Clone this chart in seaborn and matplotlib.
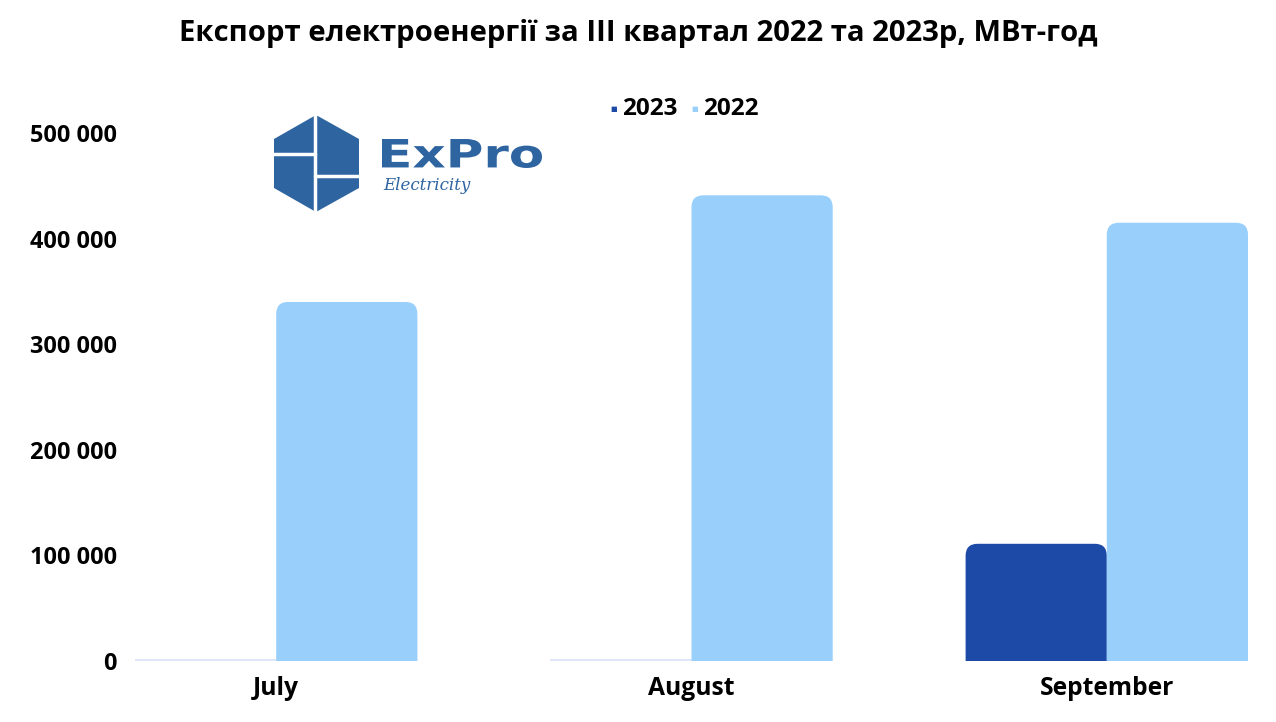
import matplotlib
matplotlib.use("Agg")
import matplotlib.pyplot as plt
import seaborn as sns
import pandas as pd
from matplotlib.patches import FancyBboxPatch, Polygon, PathPatch
from matplotlib.textpath import TextPath
from matplotlib.font_manager import FontProperties
from matplotlib.transforms import Affine2D

months = ["July", "August", "September"]
years = ["2023", "2022"]
values_2023 = [1000, 1000, 111000]
values_2022 = [340000, 441000, 415000]
yticks = [0, 100000, 200000, 300000, 400000, 500000]
ytick_labels = ["0", "100 000", "200 000", "300 000", "400 000", "500 000"]
title = "Експорт електроенергії за III квартал 2022 та 2023р, МВт-год"
colors = {"2023": "#1d4aa6", "2022": "#99cffb"}

df = pd.DataFrame({
    "month": months * 2,
    "year": ["2023"] * 3 + ["2022"] * 3,
    "value": values_2023 + values_2022,
})

sns.set_theme(style="white")
plt.rcParams["font.family"] = ["Open Sans", "DejaVu Sans"]

W, H = 1276, 722
fig = plt.figure(figsize=(W / 100, H / 100), dpi=100)
ax = fig.add_axes([135 / W, 1 - 661 / H, (1248 - 135) / W, (661 - 133) / H])

sns.barplot(data=df, x="month", y="value", hue="year", hue_order=years,
            palette=colors, width=0.68, gap=0, ax=ax, legend=False,
            saturation=1, errorbar=None)

ax.set_ylim(0, 500000)
ax.set_xlim(-0.34, 2.34)

# rounded-top bars
px_per_x = (1248 - 135) / 2.68
px_per_y = 528 / 500000
r_px = 12
rx = r_px / px_per_x
ry = r_px / px_per_y
for p in list(ax.patches):
    x0, w, h = p.get_x(), p.get_width(), p.get_height()
    fc = p.get_facecolor()
    p.set_visible(False)
    if h * px_per_y < 2 * r_px:
        ax.add_patch(plt.Rectangle((x0, 0), w, max(h, 1500), facecolor="#dfe6f5", edgecolor="none"))
        continue
    fb = FancyBboxPatch((x0, -ry), w, h + ry,
                        boxstyle=f"round,pad=0,rounding_size={rx}",
                        mutation_aspect=ry / rx, facecolor=fc, edgecolor="none",
                        clip_on=True)
    ax.add_patch(fb)

ax.set_yticks(yticks)
ax.set_yticklabels(ytick_labels, fontsize=16.9, fontweight="bold", color="black")
ax.tick_params(axis="y", pad=13, length=0)
ax.tick_params(axis="x", pad=11, length=0)
for lab in ax.get_xticklabels():
    lab.set_fontsize(17.7)
    lab.set_fontweight("bold")
    lab.set_color("black")
ax.set_xlabel("")
ax.set_ylabel("")
sns.despine(ax=ax, left=True, bottom=True, top=True, right=True)
ax.grid(False)

fig.text(0.5, 1 - 33 / H, title, ha="center", va="center",
         fontsize=21.1, fontweight="bold", color="black")

# legend
leg_y = 1 - 109 / H
for xm, yr in [(614, "2023"), (695, "2022")]:
    fig.text(xm / W, leg_y, "■", ha="center", va="center", fontsize=5,
             color=colors[yr], family=["DejaVu Sans"])
    fig.text((xm + 8) / W, leg_y, yr, ha="left", va="center",
             fontsize=17.5, fontweight="bold", color="black")

# logo
lax = fig.add_axes([0, 0, 1, 1], zorder=5)
lax.set_xlim(0, W)
lax.set_ylim(H, 0)
lax.axis("off")
logo_c = "#2e64a0"
hexagon = [(316, 115), (359, 139), (359, 188), (316, 212), (274, 188), (274, 139)]
lax.add_patch(Polygon(hexagon, closed=True, facecolor=logo_c, edgecolor="none"))
lax.plot([315, 315], [112, 215], color="white", lw=2.5)
lax.plot([271, 315], [154, 154], color="white", lw=2.5)
lax.plot([315, 362], [176, 176], color="white", lw=2.5)

tp = TextPath((0, 0), "ExPro", size=40,
              prop=FontProperties(family="DejaVu Sans", weight="bold"))
bb = tp.get_extents()
sx = (542 - 382) / bb.width
sy = (168 - 139) / bb.height
tr = Affine2D().translate(-bb.x0, -bb.y0).scale(sx, -sy).translate(382, 168)
lax.add_patch(PathPatch(tr.transform_path(tp), facecolor=logo_c, edgecolor="none"))
lax.text(383, 186, "Electricity", ha="left", va="center", fontsize=12,
         color=logo_c, style="italic", family=["DejaVu Serif", "DejaVu Sans"])

fig.savefig("out.png", dpi=100, facecolor="white")
